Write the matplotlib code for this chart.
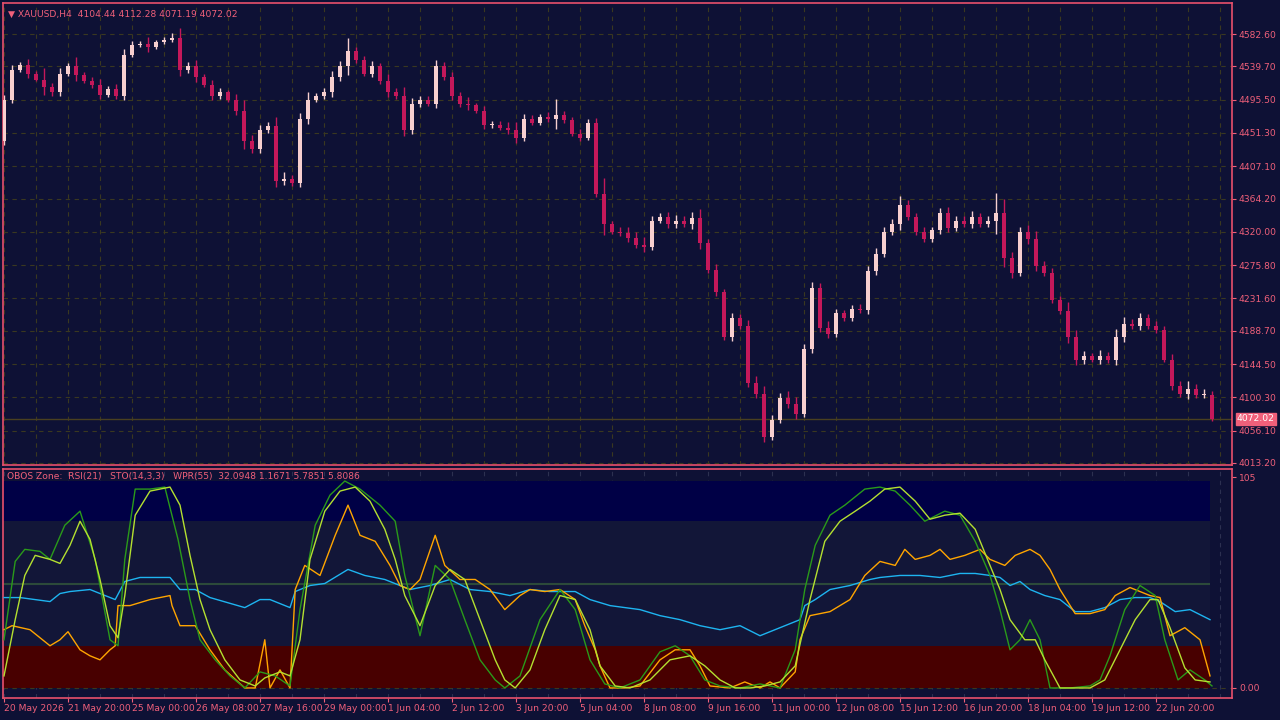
import matplotlib
matplotlib.use("Agg")
import matplotlib.pyplot as plt
from matplotlib.patches import Rectangle

closes = [4495,4535,4541,4530,4522,4512,4505,4530,4540,4528,4520,4515,4502,4510,4500,4555,
          4568,4570,4565,4572,4575,4578,4535,4540,4525,4515,4500,4505,4495,4480,4440,4430,
          4455,4460,4388,4390,4385,4470,4495,4500,4505,4525,4540,4560,4548,4530,4540,4520,
          4505,4500,4455,4490,4495,4490,4540,4525,4500,4490,4488,4480,4462,4462,4458,4455,
          4445,4470,4465,4472,4470,4475,4468,4450,4445,4465,4370,4330,4320,4318,4312,4303,
          4300,4335,4340,4330,4335,4330,4338,4305,4270,4240,4180,4205,4195,4120,4105,4048,
          4070,4100,4092,4078,4165,4245,4192,4185,4212,4205,4218,4216,4268,4290,4320,4330,
          4355,4340,4320,4310,4322,4345,4325,4335,4330,4340,4330,4335,4345,4285,4265,4320,
          4310,4275,4265,4230,4215,4180,4150,4155,4150,4155,4150,4180,4198,4195,4205,4195,
          4190,4150,4115,4105,4112,4104,4104,4072]
first_open = 4440
wicks = [12,10,8,15,6,25,10,12,8,20,7,9,14,6,10,12,8,6,14,5,7,9,20,10,14,8,11,9,6,13,
         25,14,12,10,20,15,9,12,18,8,10,14,12,30,10,9,12,8,15,10,20,12,9,8,13,10,11,9,14,6,
         12,9,8,14,18,10,9,7,12,35,10,8,12,9,10,35,8,10,14,12,16,10,9,11,12,9,14,20,10,12,
         8,12,10,14,15,18,12,10,14,15,10,14,12,16,10,8,9,10,12,14,10,12,20,12,9,10,8,12,14,
         10,9,12,8,10,45,30,14,10,15,18,10,12,9,20,16,12,8,14,10,18,14,10,12,9,10,8,14,12,16,10,12,8]

rsi_x = [0,2,5.75,7,8.25,10.75,13.9,15.1,17,20.75,22,23.9,25.75,30.1,32,33.25,35.75,36.4,38.25,40.1,43,45.1,47.6,49.5,50.75,53.25,55.75,58.25,60.75,63.25,65.75,68.25,71.4,73.25,75.75,79.5,82,84.5,87,89.5,92,94.5,97,99.5,100.1,101.4,103.25,105.75,108.25,109.5,112,114.5,117,119.5,121.4,123.25,124.5,125.75,127,128.25,130.1,132,133.9,135.75,137.6,139.5,141.4,143.25,144.5,146.4,148.25,150.75]
rsi_v = [45,45,43,47,48,49,44,53,55,55,49,49,45,40,44,44,40,48,51,52,59,56,54,51,49,51,54,49,48,46,49,48,48,44,41,39,36,34,31,29,31,26,30,34,41,44,49,51,54,55,56,56,55,57,57,56,55,51,53,49,46,44,38,38,40,44,45,45,43,38,39,34]

wpr_x = [0,1,3.25,5.75,7,8,9.5,10.75,12,13.25,13.9,14.25,15.75,18.25,20.75,21,22,23.9,25.75,27.6,30.1,31.4,32.6,33.25,34.5,35.75,36.4,37.6,39.5,41.4,43,44.5,46.4,48.25,49.5,50.75,52,53.9,55.1,57,58.9,60.75,62.6,64.5,65.75,67.6,69.5,71.4,72.6,73.9,74.5,75.75,77.6,79.5,82,83.9,85.75,87,88.25,90.75,92.6,94.5,95.75,97,98.9,99.5,100.75,103.25,105.75,107.6,109.5,111.4,112.6,113.9,115.75,117,118.25,120.1,122,123.25,125.1,126.4,128.25,129.5,130.75,132,133.9,135.75,137.6,138.9,140.75,143.25,144.5,145.75,147.6,149.5,150.75]
wpr_v = [29,31,29,21,24,28,19,16,14,19,21,41,41,44,46,41,31,31,19,9,0,0,24,0,9,0,49,61,56,76,91,76,73,61,51,49,54,76,61,54,54,49,39,46,49,48,49,44,31,19,11,0,0,1,14,19,19,11,1,0,3,0,3,0,8,24,36,38,44,56,63,61,69,64,66,69,64,66,69,64,61,66,69,66,59,49,37,37,39,46,50,46,45,26,30,24,6]

sto_x = [0,1.4,2.6,3.9,5.75,7,8.25,9.5,10.75,12,13.25,14.25,15.1,16.4,18.25,20.75,22,23.25,24.5,25.75,27.6,29.5,31.4,32.6,34.5,35.75,37,38.25,40.1,42,43.9,45.75,47.6,48.9,50.1,52,53.9,55.75,57.6,59.5,61.4,62.6,63.9,65.75,67.6,69.5,71.4,73.25,74.5,76.4,78.25,80.75,83.25,85.75,87.6,89.5,91.4,93.25,95.1,97,98.9,100.75,102.6,104.5,106.4,108.25,110.1,112,113.9,115.75,117.6,119.5,121.4,123.25,124.5,125.75,127.6,128.9,130.1,132,133.9,135.75,137.6,139.5,141.4,143.25,144.25,145.75,147.6,148.9,150.75]
sto_v = [6,34,56,66,64,62,71,83,74,54,31,25,46,86,98,100,91,66,44,29,14,4,1,5,8,6,24,64,88,98,100,93,79,64,46,31,51,59,54,34,14,4,0,9,29,46,44,29,11,1,0,4,14,16,11,4,0,0,1,3,11,44,73,83,88,93,99,100,93,84,86,87,79,61,49,34,24,24,14,0,0,0,4,19,34,44,44,30,10,4,3]

sig_x = [0,1.4,2.6,4.5,5.75,7.6,9.5,11.4,13.25,14.25,15.1,16.4,18.25,20.1,21.75,23.25,24.5,26.4,28.25,30.1,32,33.9,35.75,37,38.9,40.75,42.6,44.5,47,48.9,50.1,52,53.9,55.75,57.6,59.5,61.4,62.6,64.5,67,69.5,71.4,73.25,75.1,77,79.5,82,83.9,85.75,87.6,89.5,92,94.5,97,98.9,100.1,101.4,103.25,105.1,107.6,109.5,111.4,113.25,115.1,117.6,119.5,121.4,123.25,124.5,125.75,127,128.25,129.5,130.75,133.25,135.75,137,138.25,140.1,142,143.9,145.1,146.75,148.25,150.1,151]
sig_v = [24,63,69,68,64,81,88,64,24,21,64,99,99,100,74,44,24,14,6,0,8,6,1,39,81,96,103,99,91,83,56,26,61,54,34,14,4,0,6,34,49,39,14,2,0,4,18,21,16,4,1,0,2,0,19,49,71,86,91,99,100,98,91,83,88,86,73,56,39,19,24,34,24,0,0,1,4,16,39,51,46,24,4,9,4,1]

price_ticks = [4582.6,4539.7,4495.5,4451.3,4407.1,4364.2,4320.0,4275.8,4231.6,4188.7,4144.5,4100.3,4056.1,4013.2]
time_labels = ["20 May 2026","21 May 20:00","25 May 00:00","26 May 08:00","27 May 16:00","29 May 00:00",
               "1 Jun 04:00","2 Jun 12:00","3 Jun 20:00","5 Jun 04:00","8 Jun 08:00","9 Jun 16:00",
               "11 Jun 00:00","12 Jun 08:00","15 Jun 12:00","16 Jun 20:00","18 Jun 04:00","19 Jun 12:00","22 Jun 20:00"]
last_price = 4072.02

BG = "#0e1135"; PINK = "#f0607a"; BORDER = "#e8506c"; GRID = "#3a3820"
BULL = "#f7cfcf"; BEAR = "#c4185a"
FS = 6.6

fig = plt.figure(figsize=(12.8, 7.2), dpi=100, facecolor=BG)
ax = fig.add_axes([3/1280, 1-465/720, 1229/1280, 462/720], facecolor=BG)
ax2 = fig.add_axes([3/1280, 1-698/720, 1229/1280, 229/720], facecolor=BG)
n = len(closes)
xmin, xmax = -0.125, 153.5
for a in (ax, ax2):
    a.set_xlim(xmin, xmax)
    for s in a.spines.values():
        s.set_color(BORDER); s.set_linewidth(1.2)
    a.tick_params(colors=PINK, labelsize=FS, length=3, direction="out", pad=2)
    a.yaxis.tick_right()
    for g in range(0, n + 4, 4):
        a.axvline(g, color=GRID if a is ax else "#2c3050", lw=0.8, ls=(0, (4, 4)), zorder=0)

ax.set_ylim(4010.5, 4623.8)
ax.set_yticks(price_ticks)
ax.set_yticklabels([f"{p:.2f}" for p in price_ticks])
ax.set_xticks([])
for p in price_ticks:
    ax.axhline(p, color=GRID, lw=0.8, ls=(0, (4, 4)), zorder=0)
ax.axhline(last_price, color="#4a4020", lw=1, zorder=1)

opens = [first_open] + closes[:-1]
for i, (o, c) in enumerate(zip(opens, closes)):
    col = BULL if c >= o else BEAR
    hi = max(o, c) + wicks[i] * 0.6
    lo = min(o, c) - wicks[i] * 0.4
    ax.vlines(i, lo, hi, color=col, lw=1, zorder=2)
    ax.add_patch(Rectangle((i - 0.3, min(o, c)), 0.6, max(abs(c - o), 1.2), color=col, zorder=3, lw=0))

ax.text(1.004, last_price, f"{last_price:.2f}", transform=ax.get_yaxis_transform(),
        color="white", fontsize=FS, va="center", ha="left",
        bbox=dict(boxstyle="square,pad=0.15", fc=PINK, ec=PINK))
ax.text(0.004, 0.985, "\u25bc XAUUSD,H4  4104.44 4112.28 4071.19 4072.02", transform=ax.transAxes,
        color=PINK, fontsize=FS, va="top", ha="left")

# indicator
ax2.set_ylim(-5, 109)
ax2.set_yticks([105, 0])
ax2.set_yticklabels(["105", "0.00"])
fx0 = (-0.5 - xmin)/(xmax - xmin); fx1 = (150.75 - xmin)/(xmax - xmin)
ax2.axhspan(83, 103, xmin=fx0, xmax=fx1, color="#000046", zorder=0.5, lw=0)
ax2.axhspan(0, 21, xmin=fx0, xmax=fx1, color="#480000", zorder=0.5, lw=0)
ax2.axhspan(21, 83, xmin=fx0, xmax=fx1, color="#121638", zorder=0.4, lw=0)
ax2.hlines(52, -0.5, 150.75, color="#2c4a3a", lw=1.5, zorder=1)
ax2.axhline(0, color=GRID, lw=0.8, ls=(0, (4, 4)), zorder=0.6)
ax2.plot(rsi_x, rsi_v, color="#1eb4f0", lw=1, zorder=3)
ax2.plot(wpr_x, wpr_v, color="#ffa500", lw=1, zorder=3)
ax2.plot(sig_x, sig_v, color="#2a9a1a", lw=1, zorder=3)
ax2.plot(sto_x, sto_v, color="#b4e030", lw=1, zorder=3)
ax2.text(0.003, 0.985, "OBOS Zone:  RSI(21)   STO(14,3,3)   WPR(55)  32.0948 1.1671 5.7851 5.8086",
         transform=ax2.transAxes, color=PINK, fontsize=FS, va="top", ha="left")
ax2.set_xticks([8 * k for k in range(len(time_labels))])
ax2.set_xticklabels(time_labels, ha="left")
for lbl in ax2.get_xticklabels():
    lbl.set_x(lbl.get_position()[0])
ax2.tick_params(axis="x", pad=1)

fig.savefig("out.png", dpi=100, facecolor=BG)
